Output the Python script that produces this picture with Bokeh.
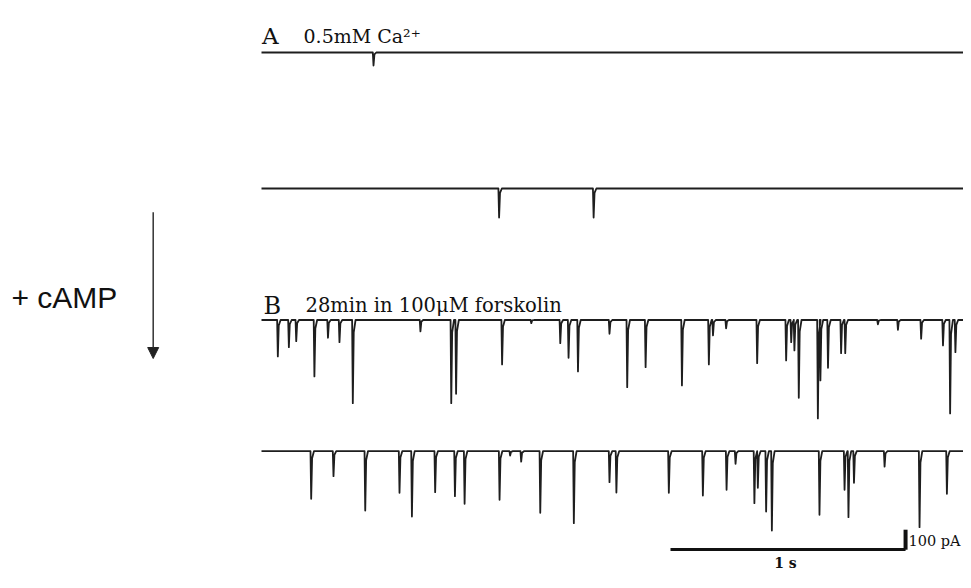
from bokeh.plotting import figure
from bokeh.models import Range1d, Label, Arrow, NormalHead
from bokeh.embed import file_html
from bokeh.resources import INLINE

# ---------------- data (seconds, pA) ----------------
trace_names = ["A1", "A2", "B1", "B2"]
trace_start = 0.0
trace_end = 3.083

a1_times = [0.484]
a1_amps = [65]

a2_times = [1.030, 1.441]
a2_amps = [145, 145]

b1_times = [0.068, 0.116, 0.148, 0.227, 0.286, 0.336, 0.394, 0.688, 0.822, 0.843,
            1.043, 1.170, 1.296, 1.332, 1.373, 1.510, 1.587, 1.667, 1.825, 1.942,
            1.960, 2.017, 2.152, 2.278, 2.300, 2.314, 2.333, 2.416, 2.427, 2.460,
            2.517, 2.535, 2.677, 2.764, 2.865, 2.960, 2.991, 3.014, 3.068]
b1_amps = [182, 136, 106, 282, 89, 111, 416, 57, 416, 369,
           222, 16, 116, 189, 257, 69, 336, 236, 327, 222,
           77, 42, 216, 202, 111, 152, 389, 492, 302, 239,
           166, 166, 22, 49, 94, 127, 467, 161, 82]

b2_times = [0.213, 0.310, 0.448, 0.597, 0.651, 0.752, 0.838, 0.880, 1.032, 1.078,
            1.126, 1.209, 1.355, 1.510, 1.540, 1.768, 1.916, 2.019, 2.058, 2.140,
            2.155, 2.191, 2.216, 2.423, 2.532, 2.549, 2.573, 2.706, 2.858, 2.977]
b2_amps = [238, 125, 297, 208, 327, 205, 225, 263, 243, 22,
           52, 308, 360, 155, 207, 208, 222, 193, 63, 260,
           183, 302, 397, 318, 193, 330, 158, 77, 380, 213]

scale_time = 1.0     # s
scale_current = 100  # pA

label_a = "A"
label_a_text = "0.5mM Ca\u00b2\u207a"
label_b = "B"
label_b_text = "28min in 100\u03bcM  forskolin"
label_side = "+ cAMP"
label_time = "1 s"
label_current = "100 pA"

# ---------------- layout helpers ----------------
PX_PER_S = 230.0
PX_PER_PA = 0.2
W, H = 963, 572


def tx(X):
    return (X - 261) / PX_PER_S


def vy(Y):
    return (H - Y) / PX_PER_PA


offsets = {"A1": vy(52), "A2": vy(188), "B1": vy(319.5), "B2": vy(450.7)}
events = {"A1": (a1_times, a1_amps), "A2": (a2_times, a2_amps),
          "B1": (b1_times, b1_amps), "B2": (b2_times, b2_amps)}


def build(times, amps, off):
    xs, ys = [trace_start], [off]
    for t, a in sorted(zip(times, amps)):
        xs += [t, t + 0.003, t + 0.007, t + 0.015]
        ys += [off, off - a, off - 0.15 * a, off]
    xs.append(trace_end)
    ys.append(off)
    return xs, ys


p = figure(width=W, height=H, x_range=Range1d(tx(0), tx(W)),
           y_range=Range1d(vy(H), vy(0)), x_axis_type=None, y_axis_type=None,
           output_backend="svg", toolbar_location=None, min_border=0)
p.grid.visible = False
p.outline_line_color = None
p.background_fill_color = "white"
p.border_fill_color = "white"

for name in trace_names:
    xs, ys = build(*events[name], offsets[name])
    p.line(xs, ys, line_color="#1e1e1e", line_width=1.8, line_join="round")

# scale bars
sx0 = tx(670)
sy = vy(549)
p.line([sx0, sx0 + scale_time + 0.022], [sy, sy], line_color="#111111", line_width=3)
p.line([sx0 + scale_time + 0.022] * 2, [sy - 1, sy - 1 + scale_current],
       line_color="#111111", line_width=4)

serif = "DejaVu Serif"
p.add_layout(Label(x=tx(261.5), y=vy(35), text=label_a, text_font=serif,
                   text_font_size="23px", text_color="#111111", text_baseline="alphabetic"))
p.add_layout(Label(x=tx(303), y=vy(35), text=label_a_text, text_font=serif,
                   text_font_size="19px", text_color="#111111", text_baseline="alphabetic"))
p.add_layout(Label(x=tx(263), y=vy(305), text=label_b, text_font=serif,
                   text_font_size="24px", text_color="#111111", text_baseline="alphabetic"))
p.add_layout(Label(x=tx(305), y=vy(305), text=label_b_text, text_font=serif,
                   text_font_size="19.5px", text_color="#111111", text_baseline="alphabetic"))
p.add_layout(Label(x=tx(785), y=vy(562), text=label_time, text_font=serif,
                   text_font_size="14px", text_color="#111111", text_align="center",
                   text_baseline="alphabetic", text_font_style="bold"))
p.add_layout(Label(x=tx(908), y=vy(540), text=label_current, text_font=serif,
                   text_font_size="14.5px", text_color="#111111", text_baseline="middle"))
p.add_layout(Label(x=tx(11), y=vy(297), text=label_side, text_font="Liberation Sans",
                   text_font_size="30px", text_color="#111111", text_baseline="alphabetic"))

p.add_layout(Arrow(end=NormalHead(size=11, fill_color="#222222", line_color="#222222"),
                   x_start=tx(152.7), y_start=vy(211.7), x_end=tx(152.7), y_end=vy(358),
                   line_color="#333333", line_width=1.5))

open("out.html", "w").write(file_html(p, INLINE))
